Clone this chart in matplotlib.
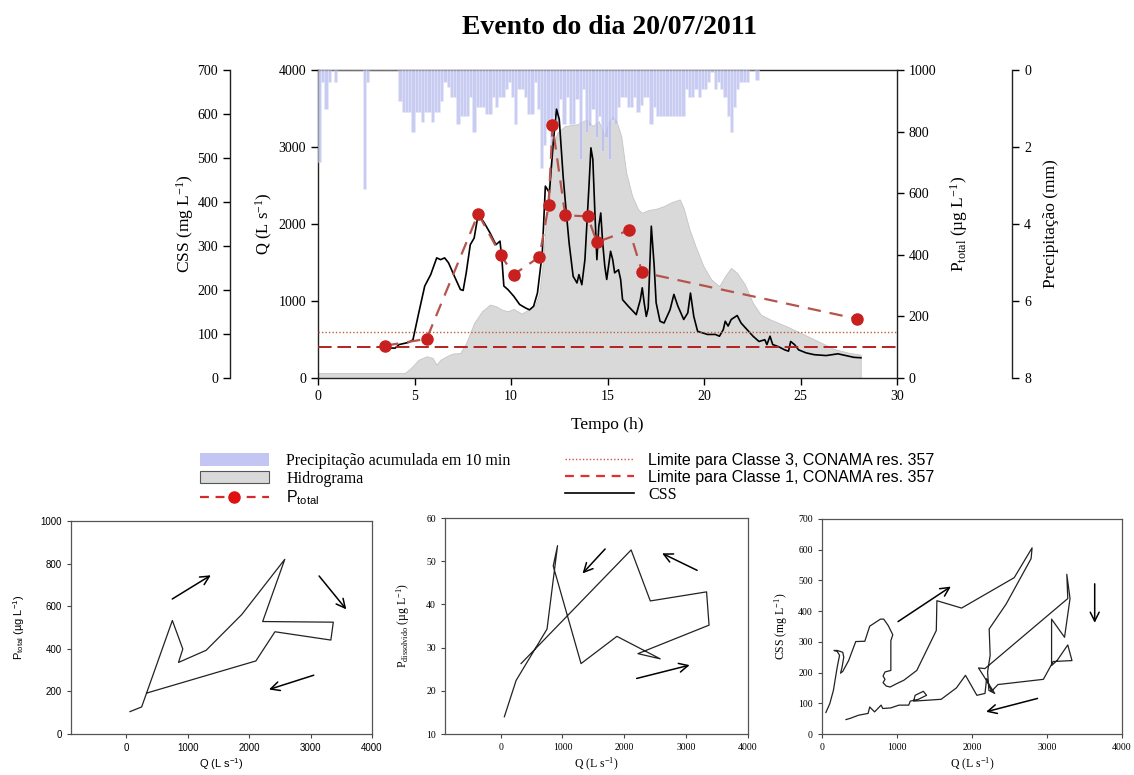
import numpy as np
import matplotlib
matplotlib.use("Agg")
import matplotlib.pyplot as plt
from matplotlib.patches import Patch
from matplotlib.lines import Line2D

plt.rcParams["font.family"] = ["Liberation Serif", "DejaVu Serif"]
plt.rcParams["mathtext.fontset"] = "custom"
plt.rcParams["mathtext.rm"] = "Liberation Serif"
plt.rcParams["mathtext.it"] = "Liberation Serif:italic"
plt.rcParams["mathtext.bf"] = "Liberation Serif:bold"
plt.rcParams["mathtext.sf"] = "Liberation Sans"
SANS = ["Liberation Sans", "DejaVu Sans"]

# --- precipitation accumulated every 10 min (mm), from t = 0 h
precip_mm = [
    2.4, 0.3, 1.0, 0.3, 0, 0.3, 0, 0, 0, 0, 0, 0, 0, 0, 3.1, 0.3,
    0, 0, 0, 0, 0, 0, 0, 0, 0,
    0.8, 1.1, 1.1, 1.1, 1.6, 1.1, 1.1, 1.35, 1.1, 1.1, 1.35, 1.1, 1.1, 0.8, 0.3,
    0.45, 0.7, 0.7, 1.4, 1.2, 1.2, 1.2, 0.7, 1.6, 0.95,
    0.95, 0.95, 1.15, 1.15, 0.7, 0.95, 0.7, 0.7, 0.5, 0.3,
    0.7, 1.4, 0.5, 0.5, 0.7, 1.15, 1.15, 0.3, 1.0, 2.55,
    1.95, 1.4, 2.0, 1.2, 1.4, 0.75, 1.4, 0.7, 1.4, 1.4,
    0.75, 2.3, 0.5, 1.6, 1.45, 1.0, 1.75, 1.2, 2.1, 1.75,
    2.3, 1.3, 1.4, 0.95, 0.7, 0.7, 0.95, 0.95, 0.7, 1.1,
    0.9, 0.7, 0.7, 1.4, 0.95, 1.2, 1.2, 1.2, 1.2, 1.2,
    1.2, 1.2, 1.2, 1.2, 0.5, 0.7, 0.7, 0.5, 0.7, 0.5,
    0.5, 0.3, 0.05, 0.5, 0.3, 0.5, 0.7, 1.2, 1.6, 0.95,
    0.5, 0.3, 0.3, 0.3, 0, 0, 0.25,
]
precip_step_h = 10 / 60

# --- hydrograph
hydro_t = [0, 4.5, 4.81, 5.22, 5.63, 5.94, 6.14, 6.35, 6.66, 6.96, 7.37, 7.68, 8.09, 8.5,
           8.91, 9.22, 9.52, 9.83, 10.14, 10.55, 10.96, 11.26, 11.47, 11.67, 11.88, 12.08,
           12.39, 12.8, 13.41, 13.93, 14.23, 14.54, 14.85, 15.05, 15.26, 15.46, 15.71,
           15.97, 16.28, 16.59, 16.79, 17.1, 17.51, 17.92, 18.33, 18.74, 18.94, 19.25,
           19.56, 19.97, 20.38, 20.79, 21.09, 21.4, 21.71, 22.12, 22.53, 22.94, 23.45,
           24.27, 25.09, 25.91, 26.73, 27.55, 28.12]
hydro_q = [65, 65, 130, 238, 282, 260, 173, 238, 282, 316, 325, 455, 715, 867,
           953, 932, 888, 867, 897, 836, 897, 953, 1105, 1539, 2319, 2882,
           3185, 3272, 3294, 3359, 3272, 3337, 3142, 3316, 3394, 3337, 3142,
           2665, 2362, 2189, 2145, 2180, 2197, 2232, 2284, 2319, 2210, 1929,
           1712, 1452, 1279, 1192, 1322, 1430, 1365, 1214, 975, 823, 758,
           672, 576, 477, 377, 325, 303]

# --- suspended sediment concentration (CSS)
css_t = [3.69, 4.0, 4.2, 4.71, 4.92, 5.22, 5.53, 5.84, 6.15, 6.35, 6.56, 6.76, 7.07, 7.38,
         7.52, 7.68, 7.89, 8.09, 8.3, 8.61, 8.91, 9.22, 9.43, 9.53, 9.63, 9.84, 10.14,
         10.45, 10.76, 10.96, 11.17, 11.37, 11.62, 11.78, 11.99, 12.19, 12.36, 12.5,
         12.7, 12.85, 13.01, 13.22, 13.42, 13.52, 13.67, 13.83, 14.04, 14.14, 14.24,
         14.34, 14.45, 14.55, 14.65, 14.75, 14.86, 14.96, 15.16, 15.27, 15.37, 15.57,
         15.68, 15.78, 16.08, 16.49, 16.7, 16.8, 16.9, 17.01, 17.11, 17.27, 17.42,
         17.52, 17.72, 17.93, 18.24, 18.44, 18.65, 18.95, 19.16, 19.3, 19.47, 19.67,
         20.18, 20.59, 20.8, 21.0, 21.1, 21.25, 21.41, 21.72, 21.92, 22.23, 22.54,
         22.85, 23.15, 23.26, 23.42, 23.56, 23.87, 24.18, 24.38, 24.49, 24.69, 24.9,
         25.3, 25.71, 26.33, 26.94, 27.35, 27.76, 28.13]
css_mg = [68, 68, 76, 81, 87, 148, 209, 235, 273, 269, 273, 262, 231, 201,
          199, 239, 303, 318, 372, 353, 330, 303, 311, 269, 209, 201, 186,
          167, 159, 155, 163, 193, 284, 436, 421, 535, 611, 588,
          459, 383, 307, 231, 216, 235, 212, 269, 436, 523, 497,
          383, 269, 345, 375, 307, 254, 224, 288, 269, 239, 246,
          224, 178, 163, 144, 178, 205, 171, 140, 159, 345, 254,
          171, 129, 125, 155, 190, 163, 133, 148, 193, 140, 106,
          99, 99, 95, 110, 129, 118, 133, 142, 125, 110, 95,
          83, 87, 76, 95, 76, 71, 64, 61, 83, 76, 64,
          57, 53, 51, 55, 51, 47, 46]

# --- total phosphorus samples
p_t = [3.48, 5.63, 8.3, 9.47, 10.14, 11.47, 11.95, 12.15, 12.81, 13.97, 14.45, 16.13, 16.8, 27.93]
p_total = [105, 127, 533, 399, 336, 393, 561, 820, 528, 525, 441, 480, 343, 192]
q_at_p = [60, 250, 750, 920, 850, 1300, 1880, 2580, 2220, 3370, 3330, 2420, 2110, 330]
p_dissolvido = [14.0, 22.4, 34.3, 53.6, 48.9, 26.3, 32.6, 27.4, 28.6, 35.2, 42.9, 40.8, 52.6, 26.3]

limite_classe3 = 150
limite_classe1 = 100

# --- CSS x Q hysteresis (bottom right panel)
hyst_q = [52, 104, 152, 203, 234, 203, 160, 203, 277, 290, 268, 247, 277, 355, 450, 571,
          636, 779, 823, 883, 944, 918, 918, 918, 840, 814, 840, 814, 857, 909, 996, 1091,
          1264, 1524, 1532, 1861, 2563, 2801, 2788, 2455, 2260, 2229, 2242, 2208, 2225,
          2303, 2087, 2173, 3277, 3264, 3307, 3234, 3061, 3061, 3134, 3277, 3333, 3082,
          2952, 2346, 2260, 2195, 2173, 2065, 1913, 1792, 1589, 1221, 1242, 1351, 1394,
          1286, 1177, 1156, 1026, 918, 810, 788, 701, 636, 615, 485, 377, 320]
hyst_css = [70, 99, 142, 218, 256, 269, 272, 272, 266, 250, 218, 198, 204, 239, 301, 302,
            351, 374, 374, 353, 323, 304, 288, 207, 202, 189, 178, 167, 156, 153, 164, 175,
            207, 337, 434, 410, 509, 606, 571, 423, 353, 342, 256, 202, 142,
            132, 215, 213, 441, 520, 441, 315, 374, 223, 239, 290, 239, 236,
            178, 161, 139, 180, 132, 126, 191, 150, 113, 107, 126, 139, 126,
            113, 107, 94, 94, 85, 83, 94, 72, 88, 67, 61, 51, 47]

# arrows (start, end) in data units
arrows_ptotal = [((710, 627), (1415, 752)), ((3110, 752), (3610, 575)), ((3095, 280), (2280, 205))]
arrows_pdis = [((1720, 53.3), (1294, 46.7)), ((3218, 47.6), (2571, 52.1)), ((2156, 22.7), (3100, 26.1))]
arrows_css = [((983, 361), (1749, 485)), ((2909, 118), (2152, 70)), ((3636, 498), (3636, 353))]

# colours
C_PREC = "#b7bbee"
C_HYDRO = "#d9d9d9"
C_PLINE = "#b5544c"
C_PMARK = "#c8201e"
C_CL3 = "#c0603a"
C_CL1 = "#b22222"

W, H = 1134, 775
fig = plt.figure(figsize=(W / 100, H / 100), dpi=100)

fig.text(610 / W, 1 - 28 / H, "Evento do dia 20/07/2011", ha="center", va="center",
         fontsize=20, fontweight="bold")

# ---------------- top chart
ax = fig.add_axes([318 / W, 1 - 378 / H, 579 / W, 308 / H])
ax_pr = ax.twinx()
ax_css = ax.twinx()
ax_p = ax.twinx()

ax.fill_between(hydro_t, hydro_q, 0, facecolor=C_HYDRO, edgecolor="#c4c4c4", lw=0.6)
ax.set_xlim(0, 30)
ax.set_ylim(0, 4000)
ax.set_xticks(range(0, 31, 5))
ax.set_yticks(range(0, 4001, 1000))
ax.spines["right"].set_visible(False)
ax.set_xlabel("Tempo (h)", fontsize=12.5, labelpad=10)
ax.set_ylabel(r"Q (L s$^{\mathrm{-1}}$)", fontsize=12)
ax.yaxis.set_label_coords(-0.075, 0.5)

bar_t = np.arange(len(precip_mm)) * precip_step_h
ax_pr.bar(bar_t, precip_mm, width=precip_step_h, align="edge", color=C_PREC, alpha=0.75,
          edgecolor="#e8e9f8", linewidth=0.4)
ax_pr.set_ylim(8, 0)
ax_pr.set_yticks(range(0, 9, 2))
for s in ["left", "top", "bottom"]:
    ax_pr.spines[s].set_visible(False)
ax_pr.spines["right"].set_position(("axes", 1.199))
ax_pr.set_ylabel("Precipitação (mm)", fontsize=12.5)
ax_pr.yaxis.set_label_coords(1.253, 0.5)

ax_css.plot(css_t, css_mg, color="black", lw=1.2)
ax_css.set_ylim(0, 700)
ax_css.set_yticks(range(0, 701, 100))
ax_css.yaxis.set_ticks_position("left")
ax_css.yaxis.set_label_position("left")
for s in ["right", "top", "bottom"]:
    ax_css.spines[s].set_visible(False)
ax_css.spines["left"].set_position(("axes", -0.152))
ax_css.set_ylabel(r"CSS (mg L$^{\mathrm{-1}}$)", fontsize=12.5)
ax_css.yaxis.set_label_coords(-0.21, 0.5)

ax_p.axhline(limite_classe3, color=C_CL3, ls=(0, (1, 1.5)), lw=1.0)
ax_p.axhline(limite_classe1, color=C_CL1, ls=(0, (7, 3)), lw=1.4)
ax_p.plot(p_t, p_total, color=C_PLINE, ls=(0, (6, 4)), lw=1.6, marker="o", ms=8,
          mfc=C_PMARK, mec=C_PMARK)
ax_p.set_ylim(0, 1000)
ax_p.set_yticks(range(0, 1001, 200))
for s in ["left", "top", "bottom"]:
    ax_p.spines[s].set_visible(False)
ax_p.set_ylabel(r"P$_{\mathrm{total}}$ (µg L$^{\mathrm{-1}}$)", fontsize=12.5)
ax_p.yaxis.set_label_coords(1.088, 0.5)

for a in (ax, ax_pr, ax_css, ax_p):
    a.tick_params(direction="out", length=5, labelsize=10, width=1)
    for sp in a.spines.values():
        sp.set_linewidth(1.0)
        sp.set_color("#222222")

# ---------------- legends
h_left = [Patch(facecolor="#c3c6f2", edgecolor="none"),
          Patch(facecolor=C_HYDRO, edgecolor="#555555", lw=0.8),
          Line2D([], [], color="#d42a2a", ls=(0, (4, 3)), lw=1.6, marker="o", ms=8,
                 mfc="#e01010", mec="#e01010")]
l_left = ["Precipitação acumulada em 10 min", "Hidrograma", r"P$_{\mathsf{total}}$"]
leg1 = fig.legend(h_left, l_left, loc="upper left", bbox_to_anchor=(200 / W, 1 - 453 / H),
                  frameon=False, fontsize=11.5, handlelength=4.3, handletextpad=1.1,
                  labelspacing=0.12, borderpad=0, borderaxespad=0, handleheight=0.8)
leg1.get_texts()[2].set_fontfamily(SANS)

h_right = [Line2D([], [], color="#d05050", ls=(0, (1, 1.5)), lw=1.0),
           Line2D([], [], color="#e03030", ls=(0, (4, 3)), lw=1.6),
           Line2D([], [], color="black", lw=1.2)]
l_right = ["Limite para Classe 3, CONAMA res. 357", "Limite para Classe 1, CONAMA res. 357", "CSS"]
leg2 = fig.legend(h_right, l_right, loc="upper left", bbox_to_anchor=(565 / W, 1 - 453 / H),
                  frameon=False, fontsize=11.5, handlelength=4.3, handletextpad=0.9,
                  labelspacing=0.12, borderpad=0, borderaxespad=0)
leg2.get_texts()[0].set_fontfamily(SANS)
leg2.get_texts()[1].set_fontfamily(SANS)


# ---------------- bottom panels
def style_panel(a, family):
    a.tick_params(direction="out", length=3, labelsize=7, width=0.8, color="#444444")
    a.tick_params(axis="both", which="both", top=False, right=False)
    for sp in a.spines.values():
        sp.set_linewidth(0.9)
        sp.set_color("#555555")
    for lab in a.get_xticklabels() + a.get_yticklabels():
        lab.set_fontfamily(family)


def draw_arrows(a, arrows):
    for (x0, y0), (x1, y1) in arrows:
        a.annotate("", xy=(x1, y1), xytext=(x0, y0),
                   arrowprops=dict(arrowstyle="->", color="black", lw=1.1, mutation_scale=16))


bot = 1 - 734 / H
p1 = fig.add_axes([71 / W, bot, 301 / W, 213 / H])
p1.plot(q_at_p, p_total, color="#222222", lw=0.9)
p1.set_xlim(-900, 4000)
p1.set_ylim(0, 1000)
p1.set_xticks(range(0, 4001, 1000))
p1.set_yticks(range(0, 1001, 200))
draw_arrows(p1, arrows_ptotal)
style_panel(p1, SANS)
p1.set_xlabel(r"Q (L s$^{\mathsf{-1}}$)", fontsize=8, fontfamily=SANS, labelpad=3)
p1.set_ylabel(r"P$_{\mathsf{total}}$ (µg L$^{\mathsf{-1}}$)", fontsize=8, fontfamily=SANS, labelpad=10)

p2 = fig.add_axes([445 / W, bot, 303 / W, 216 / H])
p2.plot(q_at_p, p_dissolvido, color="#222222", lw=0.9)
p2.set_xlim(-900, 4000)
p2.set_ylim(10, 60)
p2.set_xticks(range(0, 4001, 1000))
p2.set_yticks(range(10, 61, 10))
draw_arrows(p2, arrows_pdis)
style_panel(p2, ["Liberation Serif"])
p2.set_xlabel(r"Q (L s$^{\mathrm{-1}}$)", fontsize=8.5, labelpad=3)
p2.set_ylabel(r"P$_{\mathrm{dissolvido}}$ (µg L$^{\mathrm{-1}}$)", fontsize=8.5, labelpad=10)

p3 = fig.add_axes([822 / W, bot, 300 / W, 215 / H])
p3.plot(hyst_q, hyst_css, color="#222222", lw=0.9)
p3.set_xlim(0, 4000)
p3.set_ylim(0, 700)
p3.set_xticks(range(0, 4001, 1000))
p3.set_yticks(range(0, 701, 100))
draw_arrows(p3, arrows_css)
style_panel(p3, ["Liberation Serif"])
p3.set_xlabel(r"Q (L s$^{\mathrm{-1}}$)", fontsize=8.5, labelpad=3)
p3.set_ylabel(r"CSS (mg L$^{\mathrm{-1}}$)", fontsize=8.5, labelpad=6)

fig.savefig("out.png", dpi=100)
